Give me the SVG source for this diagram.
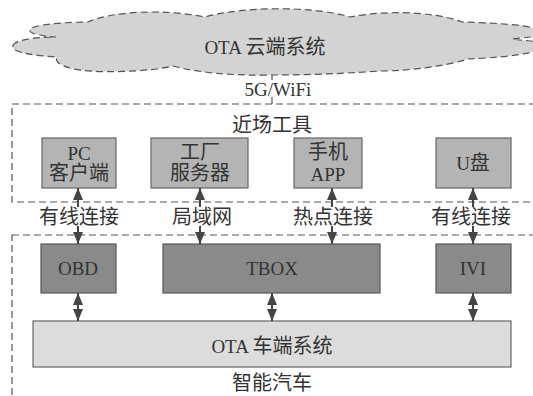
<svg xmlns="http://www.w3.org/2000/svg" width="533" height="396" viewBox="0 0 533 396">
<defs>
<style>
text{font-family:"Liberation Serif","Noto Sans CJK SC",serif;font-size:19px;fill:#333;text-anchor:middle}
.c{font-size:20px}
.dash{fill:none;stroke:#555;stroke-width:1.2;stroke-dasharray:7 4}
.tool{fill:#b4b4b4;stroke:#666;stroke-width:1.2}
.ecu{fill:#8a8a8a;stroke:#555;stroke-width:1.2}
.sys{fill:#dcdcdc;stroke:#666;stroke-width:1.2}
.arr{fill:none;stroke:#444;stroke-width:2}
</style>
<marker id="ah" viewBox="0 0 12 10" refX="12" refY="5" markerWidth="12" markerHeight="10" markerUnits="userSpaceOnUse" orient="auto-start-reverse">
<path d="M0,0 L12,5 L0,10 z" fill="#444"/>
</marker>
</defs>
<rect width="533" height="396" fill="#fff"/>
<g id="cloud">
<path d="M13,46 C14,40 35,37 56,37 C38,36 24,32 32,28 C38,24 70,22 88,22 C110,12 160,8 205,17 C240,7 310,5 350,17 C380,11 430,10 462,22 C490,23 525,24 540,30 L540,36 L512,39 L540,42 L540,50 C520,56 490,58 468,59 C440,68 400,71 380,71 C340,74 300,75 272,75 C230,76 195,72 173,66 C150,72 90,74 70,68 C58,65 55,60 57,57 C40,56 10,53 13,46 Z" fill="#d3d3d3" stroke="#555" stroke-width="1.2" stroke-dasharray="7 4"/>
<text x="265" y="54">OTA <tspan class="c">云端系统</tspan></text>
</g>
<g id="near-field">
<rect class="dash" x="12" y="104" width="540" height="98"/>
<text class="c" x="272" y="132">近场工具</text>
</g>
<g id="vehicle">
<rect class="dash" x="12" y="235" width="540" height="200"/>
<text class="c" x="272" y="390">智能汽车</text>
</g>
<g id="pc">
<rect class="tool" x="42" y="138" width="74" height="50"/>
<text x="79" y="160">PC</text>
<text class="c" x="79" y="180">客户端</text>
</g>
<g id="factory">
<rect class="tool" x="151" y="138" width="97" height="50"/>
<text class="c" x="200" y="159">工厂</text>
<text class="c" x="200" y="180">服务器</text>
</g>
<g id="app">
<rect class="tool" x="294" y="138" width="68" height="50"/>
<text class="c" x="328" y="159">手机</text>
<text x="328" y="181">APP</text>
</g>
<g id="udisk">
<rect class="tool" x="436" y="138" width="75" height="50"/>
<text x="473" y="170">U<tspan class="c">盘</tspan></text>
</g>
<g id="obd">
<rect class="ecu" x="41" y="244" width="75" height="49"/>
<text x="78" y="275">OBD</text>
</g>
<g id="tbox">
<rect class="ecu" x="163" y="244" width="217" height="49"/>
<text x="272" y="275">TBOX</text>
</g>
<g id="ivi">
<rect class="ecu" x="436" y="244" width="75" height="49"/>
<text x="473" y="275">IVI</text>
</g>
<g id="ota-vehicle">
<rect class="sys" x="33" y="321" width="478" height="46"/>
<text x="272" y="353">OTA <tspan class="c">车端系统</tspan></text>
</g>
<g id="connectors">
<path d="M272,75 V80 M272,97 V104" fill="none" stroke="#555" stroke-width="1.2"/>
<path class="arr" d="M78,207 V188" marker-end="url(#ah)"/>
<path class="arr" d="M78,226 V244" marker-end="url(#ah)"/>
<path class="arr" d="M200,207 V188" marker-end="url(#ah)"/>
<path class="arr" d="M200,226 V244" marker-end="url(#ah)"/>
<path class="arr" d="M332,207 V188" marker-end="url(#ah)"/>
<path class="arr" d="M332,226 V244" marker-end="url(#ah)"/>
<path class="arr" d="M473,207 V188" marker-end="url(#ah)"/>
<path class="arr" d="M473,226 V244" marker-end="url(#ah)"/>
<path class="arr" d="M78,293 V321" marker-start="url(#ah)" marker-end="url(#ah)"/>
<path class="arr" d="M272,293 V321" marker-start="url(#ah)" marker-end="url(#ah)"/>
<path class="arr" d="M473,293 V321" marker-start="url(#ah)" marker-end="url(#ah)"/>
<text x="278" y="96">5G/WiFi</text>
<text class="c" x="79" y="224">有线连接</text>
<text class="c" x="202" y="224">局域网</text>
<text class="c" x="333" y="224">热点连接</text>
<text class="c" x="471" y="224">有线连接</text>
</g>
</svg>
